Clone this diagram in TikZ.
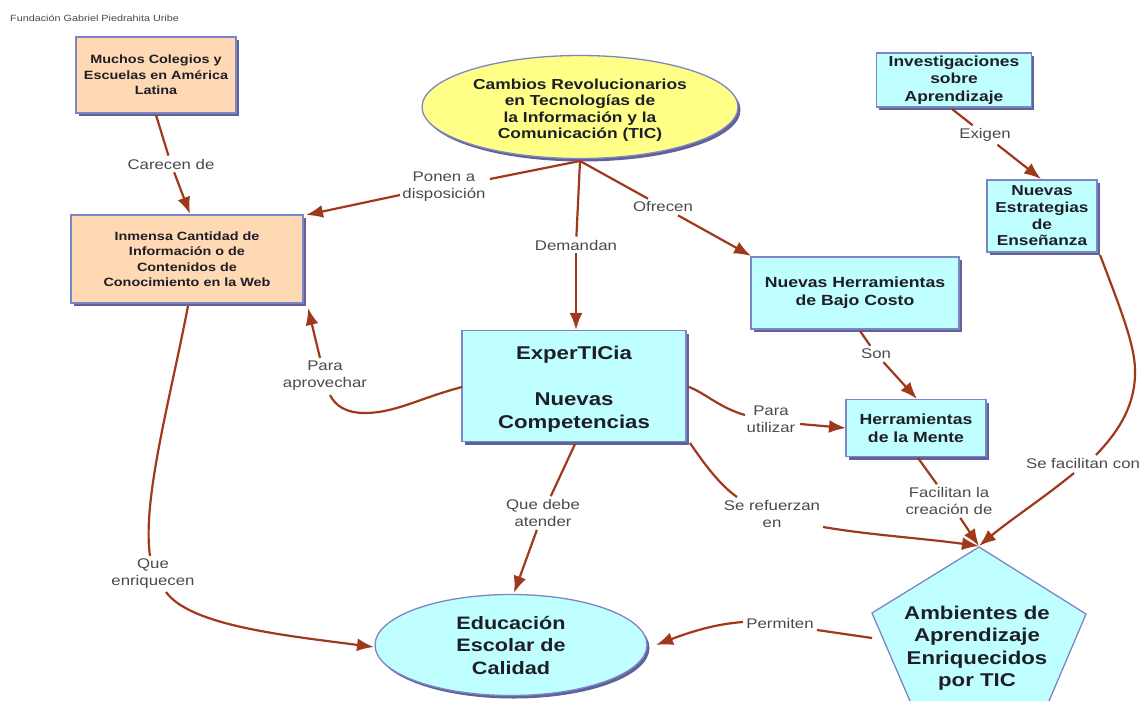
\documentclass[tikz,border=0pt]{standalone}
\usepackage{fontspec}
\setmainfont[FakeStretch=1.2]{Liberation Sans}
\usetikzlibrary{arrows.meta,shadows,shapes.geometric}
\definecolor{peach}{HTML}{FFD9B3}
\definecolor{aqua}{HTML}{C0FFFF}
\definecolor{yell}{HTML}{FFFF88}
\definecolor{edgeb}{HTML}{7C86C4}
\definecolor{shad}{HTML}{62629A}
\definecolor{conn}{HTML}{A0391C}
\definecolor{lab}{HTML}{4A4A4A}
\definecolor{ink}{HTML}{1E1E28}
\tikzset{
 x=1pt,y=-1pt,
 base/.style={draw=edgeb,line width=1.3pt,align=center,text=ink,font=\bfseries,inner sep=0pt,
   drop shadow={shadow xshift=2.5pt,shadow yshift=-3pt,fill=shad,opacity=1}},
 box/.style={base,rectangle},
 oval/.style={base,ellipse},
 lbl/.style={align=center,text=lab,font=\fontsize{14}{17}\selectfont,inner sep=3pt},
 link/.style={draw=conn,line width=2.2pt},
 arrow/.style={link,-{Latex[length=17pt,width=13pt]}},
 sz/.style n args={2}{minimum width=#1pt,minimum height=#2pt},
}
\begin{document}
\begin{tikzpicture}
\useasboundingbox (0,0) rectangle (1142,701);
\fill[white] (0,0) rectangle (1142,701);
\node[font=\fontsize{9}{11}\selectfont,text=lab,anchor=west,inner sep=0pt] (foot) at (10,18) {Fundación Gabriel Piedrahita Uribe};
\node[box,fill=peach,sz={160}{76},font=\bfseries\fontsize{12}{15.5}\selectfont] (A) at (156,75) {Muchos Colegios y\\Escuelas en América\\Latina};
\node[box,fill=peach,sz={232}{88},font=\bfseries\fontsize{12}{15.5}\selectfont] (B) at (187,259) {Inmensa Cantidad de\\Información o de\\Contenidos de\\Conocimiento en la Web};
\node[oval,fill=yell,sz={316}{103},font=\bfseries\fontsize{14.5}{16.6}\selectfont] (C) at (580,107) {\rule{0pt}{17pt}Cambios Revolucionarios\\en Tecnologías de\\la Información y la\\Comunicación (TIC)};
\node[box,fill=aqua,sz={155}{54},font=\bfseries\fontsize{14.5}{17.5}\selectfont] (D) at (954,80) {Investigaciones\\sobre\\Aprendizaje};
\node[box,fill=aqua,sz={110}{72},font=\bfseries\fontsize{14.4}{16.7}\selectfont] (E) at (1042,216) {Nuevas\\Estrategias\\de\\Enseñanza};
\node[box,fill=aqua,sz={208}{72},font=\bfseries\fontsize{14.7}{18}\selectfont] (F) at (855,293) {Nuevas Herramientas\\de Bajo Costo};
\node[box,fill=aqua,sz={224}{111},font=\bfseries\fontsize{18.5}{23}\selectfont] (G) at (574,386) {\rule{0pt}{20pt}ExperTICia\\[23pt]Nuevas\\Competencias};
\node[box,fill=aqua,sz={140}{57},font=\bfseries\fontsize{14.7}{18}\selectfont] (H) at (916,428) {Herramientas\\de la Mente};
\node[oval,fill=aqua,sz={272}{101},font=\bfseries\fontsize{18}{22.5}\selectfont] (I) at (511,645) {Educación\\Escolar de\\Calidad};
\fill[aqua] (979,547) -- (1086,614) -- (1049,701) -- (910,701) -- (872,613) -- cycle;
\draw[edgeb,line width=1.3pt] (910,701) -- (872,613) -- (979,547) -- (1086,614) -- (1049,701);
\node[align=center,text=ink,font=\bfseries\fontsize{18.5}{22.5}\selectfont,inner sep=0pt] (J) at (977,648) {Ambientes de\\Aprendizaje\\Enriquecidos\\por TIC};
\coordinate (Japex) at (979,546);
\coordinate (Jleft) at (872,638);
\node[lbl] (l1) at (171,164) {Carecen de};
\node[lbl] (l2) at (444,187) {Ponen a\\disposición};
\node[lbl] (l3) at (576,245) {Demandan};
\node[lbl] (l4) at (663,207) {Ofrecen};
\node[lbl] (l5) at (985,135) {Exigen};
\node[lbl] (l6) at (876,354) {Son};
\node[lbl] (l7) at (771,419) {Para\\utilizar};
\node[lbl] (l8) at (325,376) {Para\\aprovechar};
\node[lbl] (l9) at (543,513) {Que debe\\atender};
\node[lbl] (l10) at (772,514) {Se refuerzan\\en};
\node[lbl] (l11) at (949,501) {Facilitan la\\creación de};
\node[lbl] (l12) at (1083,463) {Se facilitan con};
\node[lbl] (l13) at (153,574) {Que\\enriquecen};
\node[lbl] (l14) at (780,623) {Permiten};
\coordinate (hub) at (580,161);
\draw[link] (156,115) -- (l1);
\draw[arrow] (l1) -- (190,214);
\draw[link] (hub) -- (490,179);
\draw[arrow] (400,195) -- (306,215);
\draw[link] (hub) -- (l3);
\draw[arrow] (l3) -- (G.north -| l3);
\draw[link] (hub) -- (l4);
\draw[arrow] (l4) -- (751,256);
\draw[link] (952,109) -- (l5);
\draw[arrow] (l5) -- (1041,179);
\draw[link] (860,331) -- (l6);
\draw[arrow] (l6) -- (917,399);
\draw[link] (689,387) .. controls (705,393) and (720,408) .. (745,415);
\draw[arrow] (800,424) -- (846,428);
\draw[link] (462,387) .. controls (420,398) and (395,413) .. (365,413) .. controls (345,413) and (335,405) .. (330,395);
\draw[arrow] (320,358) -- (308,308);
\draw[link] (575,444) -- (l9);
\draw[arrow] (l9) -- (514,593);
\draw[link] (690,443) .. controls (705,465) and (720,485) .. (737,497);
\draw[arrow] (823,527) .. controls (870,535) and (920,538) .. (Japex);
\draw[link] (918,458) -- (l11);
\draw[arrow] (l11) -- (Japex);
\draw[link] (1100,255) .. controls (1125,320) and (1136,350) .. (1135,375) .. controls (1134,410) and (1115,435) .. (1096,455);
\draw[arrow] (1074,473) .. controls (1045,497) and (1010,520) .. (Japex);
\draw[link] (188,306) .. controls (170,400) and (142,500) .. (150,556);
\draw[arrow] (166,592) .. controls (190,625) and (280,635) .. (374,647);
\draw[link] (Jleft) -- (817,630);
\draw[arrow] (743,622) .. controls (715,624) and (690,632) .. (656,645);
\end{tikzpicture}
\end{document}
